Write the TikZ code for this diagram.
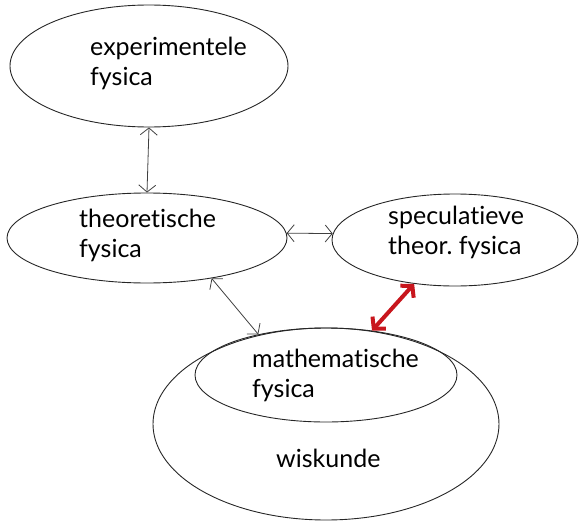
\documentclass[tikz,border=0pt]{standalone}
\usepackage{fontspec}
\setmainfont[Ligatures={NoCommon, NoContextual}]{Lato}
\usetikzlibrary{shapes.geometric, arrows.meta}
\definecolor{hotRed}{HTML}{C8161D}

\begin{document}
\begin{tikzpicture}[x=1pt, y=-1pt,
  blob/.style={ellipse, draw=black!85, line width=0.9pt, inner sep=0pt},
  lbl/.style={anchor=base west, inner sep=0pt, align=left,
    font=\fontsize{25}{30}\selectfont},
  link/.style={draw=black!75, line width=0.8pt,
    {Straight Barb[length=7pt, width=17pt]}-{Straight Barb[length=7pt, width=17pt]}},
  hot/.style={draw=hotRed, line width=4pt,
    {Straight Barb[length=8pt, width=18pt]}-{Straight Barb[length=8pt, width=18pt]}}]
  \useasboundingbox (0,0) rectangle (584,522);
  % ellipses
  \node[blob, minimum width=278pt, minimum height=122pt] (ef) at (149,66) {};
  \node[blob, minimum width=280pt, minimum height=90pt] (tf) at (147,238) {};
  \node[blob, minimum width=246pt, minimum height=92pt] (sf) at (455,240) {};
  \node[blob, minimum width=346pt, minimum height=192pt] (wk) at (326,424) {};
  \node[blob, minimum width=262pt, minimum height=94pt] (mf) at (326,375) {};
  % labels
  \node[lbl] (efl) at (90,85) {experimentele\\fysica};
  \node[lbl] (tfl) at (79,257) {theoretische\\fysica};
  \node[lbl] (sfl) at (388,254) {speculatieve\\theor.\ fysica};
  \node[lbl] (mfl) at (252,397) {mathematische\\fysica};
  \node[lbl] (wkl) at (276,467) {wiskunde};
  % connectors
  \draw[link] (ef.south) -- (tf.north);
  \draw[link] (tf.2) -- (sf.177);
  \draw[link] (tf.-32) -- (mf.149);
  \draw[hot] (sf.-133) -- (mf.44);
\end{tikzpicture}
\end{document}
